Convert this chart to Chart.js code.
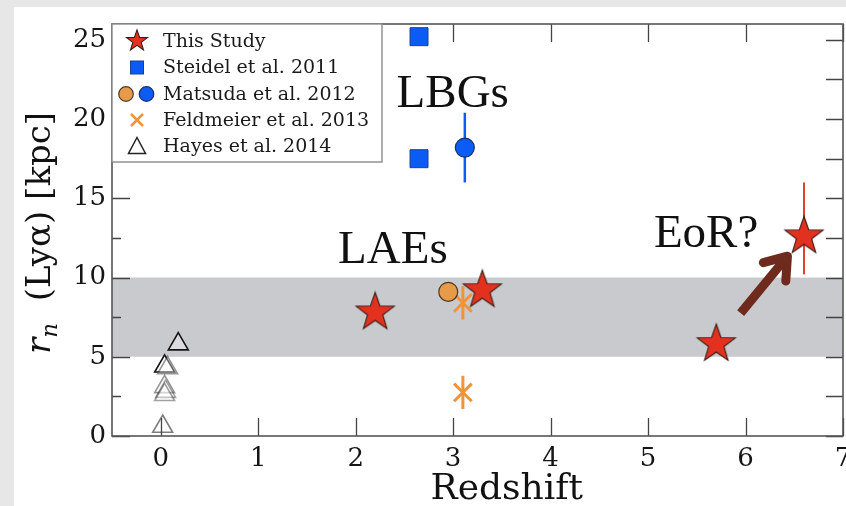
<!DOCTYPE html>
<html><head><meta charset="utf-8">
<script src="https://cdn.jsdelivr.net/npm/chart.js@4/dist/chart.umd.min.js"></script>
<style>html,body{margin:0;padding:0;background:#fff;overflow:hidden}canvas{display:block}</style>
</head><body><canvas id="c" width="846" height="506"></canvas>
<script>
// ---- data ----
const seriesNames = ['This Study','Steidel et al. 2011','Matsuda et al. 2012','Feldmeier et al. 2013','Hayes et al. 2014'];
const thisStudyZ = [2.2, 3.3, 5.7, 6.6];
const thisStudyR = [7.8, 9.2, 5.8, 12.6];
const thisStudyErrLo = [0, 0, 0, 2.4];
const thisStudyErrHi = [0, 0, 0, 3.4];
const steidelZ = [2.65, 2.65];
const steidelR = [25.2, 17.5];
const matsudaLaeZ = [2.95];
const matsudaLaeR = [9.1];
const matsudaLbgZ = [3.12];
const matsudaLbgR = [18.2];
const matsudaLbgErr = [2.2];
const feldmeierZ = [3.1, 3.1];
const feldmeierR = [8.4, 2.75];
const feldmeierErr = [1.05, 1.05];
const hayesZ = [0.18, 0.04, 0.07, 0.04, 0.05, 0.04, 0.02];
const hayesR = [5.8, 4.4, 4.3, 3.1, 2.8, 2.6, 0.6];
const hayesShade = [1.0, 1.0, 0.45, 0.45, 0.4, 0.4, 0.55];
const xTickValues = [0, 1, 2, 3, 4, 5, 6, 7];
const yTickValues = [0, 5, 10, 15, 20, 25];
const bandRange = [5, 10];
const annotationTexts = ['LBGs', 'LAEs', 'EoR?'];

// ---- layout / style (not data) ----
const annotationAnchors = [{z: 2.42, r: 20.75}, {z: 1.82, r: 10.9}, {z: 5.06, r: 11.95}];
const arrowFrom = {z: 5.95, r: 7.75};
const arrowTo = {z: 6.43, r: 11.35};
const SERIF = '"DejaVu Serif", serif';
const TIMES = '"Liberation Serif", "Times New Roman", serif';
const RED = '#e2321f', BLUE = '#0b5cf4', ORANGE_C = '#e79a48', ORANGE_X = '#f0943a';

function makeStar(R, fill, stroke) {
  const s = Math.ceil(2 * R + 4);
  const cv = document.createElement('canvas');
  cv.width = s; cv.height = s;
  const g = cv.getContext('2d');
  const cx = s / 2, cy = s / 2, r2 = R * 0.4;
  g.beginPath();
  for (let i = 0; i < 10; i++) {
    const rr = i % 2 === 0 ? R : r2;
    const a = -Math.PI / 2 + i * Math.PI / 5;
    const px = cx + rr * Math.cos(a), py = cy + rr * Math.sin(a);
    if (i === 0) g.moveTo(px, py); else g.lineTo(px, py);
  }
  g.closePath();
  g.fillStyle = fill; g.fill();
  g.lineWidth = 1.1; g.strokeStyle = stroke; g.stroke();
  return cv;
}
const bigStar = makeStar(20, RED, '#3a1c14');
const smallStar = makeStar(11, RED, '#3a1c14');

const pts = (xs, ys) => xs.map((x, i) => ({x: x, y: ys[i]}));

const datasets = [
  {label: seriesNames[0], data: pts(thisStudyZ, thisStudyR), pointStyle: bigStar, pointRadius: 20,
   errLo: thisStudyErrLo, errHi: thisStudyErrHi, errColor: '#e0402e', errWidth: 2},
  {label: seriesNames[1], data: pts(steidelZ, steidelR), pointStyle: 'rect', pointRadius: 12.7,
   backgroundColor: BLUE, borderColor: '#1d3f8c', borderWidth: 1},
  {label: seriesNames[2], data: pts(matsudaLbgZ, matsudaLbgR), pointStyle: 'circle', pointRadius: 9.5,
   backgroundColor: BLUE, borderColor: '#1c2f66', borderWidth: 1.2,
   errLo: matsudaLbgErr, errHi: matsudaLbgErr, errColor: BLUE, errWidth: 2.5},
  {label: seriesNames[2] + ' (LAE)', data: pts(matsudaLaeZ, matsudaLaeR), pointStyle: 'circle', pointRadius: 9.5,
   backgroundColor: ORANGE_C, borderColor: '#4a3a2a', borderWidth: 1.2},
  {label: seriesNames[3], data: pts(feldmeierZ, feldmeierR), pointStyle: 'crossRot', pointRadius: 12.5,
   borderColor: ORANGE_X, borderWidth: 3,
   errLo: feldmeierErr, errHi: feldmeierErr, errColor: ORANGE_X, errWidth: 3},
  {label: seriesNames[4], data: pts(hayesZ, hayesR), pointStyle: 'triangle', pointRadius: 11.5,
   backgroundColor: 'rgba(255,255,255,0.35)',
   borderColor: hayesShade.map(a => 'rgba(20,20,20,' + a + ')'), borderWidth: 1.6}
];
datasets.forEach(d => { d.pointHoverRadius = d.pointRadius; d.showLine = false; });

function yPix(c, v) { return c.scales.y.getPixelForValue(v); }
function xPix(c, v) { return c.scales.x.getPixelForValue(v); }

const backgroundPlugin = {
  id: 'bg',
  beforeDraw(c) {
    const g = c.ctx;
    g.save();
    g.fillStyle = '#e7e7e7';
    g.fillRect(0, 0, c.width, c.height);
    g.fillStyle = '#ffffff';
    g.fillRect(14, 7, c.width - 14, c.height - 7);
    g.restore();
  }
};

const bandPlugin = {
  id: 'band',
  beforeDatasetsDraw(c) {
    const g = c.ctx, a = c.chartArea;
    const y1 = yPix(c, bandRange[1]), y0 = yPix(c, bandRange[0]);
    g.save();
    g.fillStyle = '#c9cacd';
    g.fillRect(a.left, y1, a.right - a.left, y0 - y1);
    c.data.datasets.forEach(d => {
      if (!d.errLo) return;
      d.data.forEach((p, i) => {
        if (!d.errLo[i] && !d.errHi[i]) return;
        g.strokeStyle = d.errColor; g.lineWidth = d.errWidth;
        g.beginPath();
        const x = xPix(c, p.x);
        g.moveTo(x, yPix(c, p.y - d.errLo[i]));
        g.lineTo(x, yPix(c, p.y + d.errHi[i]));
        g.stroke();
      });
    });
    g.restore();
  }
};

const framePlugin = {
  id: 'frame',
  afterDatasetsDraw(c) {
    const g = c.ctx, a = c.chartArea;
    g.save();
    g.strokeStyle = '#444'; g.lineWidth = 1.3;
    g.beginPath();
    for (let v = 0; v <= 25.01; v += 2.5) {
      const y = Math.round(yPix(c, v)) + 0.5;
      const major = Math.abs(v % 5) < 1e-6;
      g.moveTo(a.left, y); g.lineTo(a.left + (major ? 18 : 9), y);
      g.moveTo(a.right, y); g.lineTo(a.right - 17, y);
    }
    xTickValues.forEach(v => {
      const x = Math.round(xPix(c, v)) + 0.5;
      g.moveTo(x, a.bottom); g.lineTo(x, a.bottom - 18);
      g.moveTo(x, a.top); g.lineTo(x, a.top + 18);
    });
    g.stroke();
    g.strokeStyle = '#555'; g.lineWidth = 1.6;
    g.strokeRect(a.left, a.top, a.right - a.left, a.bottom - a.top);
    g.fillStyle = '#111';
    g.font = '47px ' + TIMES;
    g.textBaseline = 'alphabetic'; g.textAlign = 'left';
    annotationTexts.forEach((t, i) => {
      g.fillText(t, xPix(c, annotationAnchors[i].z), yPix(c, annotationAnchors[i].r));
    });
    const x0 = xPix(c, arrowFrom.z), y0 = yPix(c, arrowFrom.r);
    const x1 = xPix(c, arrowTo.z), y1 = yPix(c, arrowTo.r);
    const ang = Math.atan2(y1 - y0, x1 - x0);
    g.strokeStyle = '#6e2b1d'; g.lineWidth = 9; g.lineCap = 'butt'; g.lineJoin = 'round';
    g.beginPath();
    g.moveTo(x0, y0); g.lineTo(x1 - 4 * Math.cos(ang), y1 - 4 * Math.sin(ang));
    g.stroke();
    g.lineCap = 'round';
    g.beginPath();
    const L = 25, w = 0.62;
    g.moveTo(x1 - L * Math.cos(ang - w), y1 - L * Math.sin(ang - w));
    g.lineTo(x1, y1);
    g.lineTo(x1 - L * Math.cos(ang + w), y1 - L * Math.sin(ang + w));
    g.stroke();
    g.restore();
  },
  afterDraw(c) {
    const g = c.ctx, a = c.chartArea;
    g.save();
    g.translate(50, (a.top + a.bottom) / 2 + 3);
    g.rotate(-Math.PI / 2);
    g.fillStyle = '#111'; g.textBaseline = 'alphabetic';
    const f1 = 'italic 34px ' + SERIF, f2 = 'italic 23px ' + SERIF, f3 = '34px ' + SERIF;
    g.font = f1; const wr = g.measureText('r').width;
    g.font = f2; const wn = g.measureText('n').width;
    const rest = '  (Ly\u03b1) [kpc]';
    g.font = f3; const wt = g.measureText(rest).width;
    let x = -(wr + wn + wt) / 2;
    g.font = f1; g.fillText('r', x, 0); x += wr;
    g.font = f2; g.fillText('n', x, 7); x += wn;
    g.font = f3; g.fillText(rest, x, 0);
    g.restore();
    g.save();
    g.fillStyle = '#111'; g.font = '36px ' + SERIF; g.textAlign = 'center'; g.textBaseline = 'alphabetic';
    g.fillText('Redshift', xPix(c, 3.55), 499);
    g.restore();
    g.save();
    const lx = a.left, ly = a.top, lw = 270, lh = 138;
    g.fillStyle = '#fff'; g.fillRect(lx, ly, lw, lh);
    g.strokeStyle = '#8a8a8a'; g.lineWidth = 1.4; g.strokeRect(lx, ly, lw, lh);
    g.font = '19px ' + SERIF; g.fillStyle = '#1a1a1a'; g.textBaseline = 'middle'; g.textAlign = 'left';
    const rows = [17, 43.5, 70, 96, 122.5];
    const mx = lx + 25, tx = lx + 51;
    seriesNames.forEach((name, i) => {
      g.fillText(name, tx, ly + rows[i] + 1);
    });
    g.drawImage(smallStar, mx - smallStar.width / 2, ly + rows[0] - smallStar.height / 2);
    g.fillStyle = BLUE; g.strokeStyle = '#1d3f8c'; g.lineWidth = 1;
    g.fillRect(mx - 6.5, ly + rows[1] - 6.5, 13, 13); g.strokeRect(mx - 6.5, ly + rows[1] - 6.5, 13, 13);
    g.lineWidth = 1.2;
    g.beginPath(); g.arc(mx - 11, ly + rows[2], 7.3, 0, Math.PI * 2); g.fillStyle = ORANGE_C; g.fill(); g.strokeStyle = '#4a3a2a'; g.stroke();
    g.beginPath(); g.arc(mx + 9.5, ly + rows[2], 7.3, 0, Math.PI * 2); g.fillStyle = BLUE; g.fill(); g.strokeStyle = '#1c2f66'; g.stroke();
    g.strokeStyle = ORANGE_X; g.lineWidth = 2.5;
    g.beginPath();
    g.moveTo(mx - 6, ly + rows[3] - 6); g.lineTo(mx + 6, ly + rows[3] + 6);
    g.moveTo(mx + 6, ly + rows[3] - 6); g.lineTo(mx - 6, ly + rows[3] + 6);
    g.stroke();
    g.strokeStyle = '#222'; g.lineWidth = 1.5;
    g.beginPath();
    g.moveTo(mx, ly + rows[4] - 9); g.lineTo(mx + 8.5, ly + rows[4] + 7); g.lineTo(mx - 8.5, ly + rows[4] + 7); g.closePath();
    g.stroke();
    g.restore();
  }
};

new Chart(document.getElementById('c'), {
  type: 'scatter',
  data: {datasets: datasets},
  options: {
    responsive: false, animation: false, events: [],
    layout: {autoPadding: false, padding: {left: 0, top: 24, right: 3, bottom: 0}},
    plugins: {legend: {display: false}, tooltip: {enabled: false}},
    scales: {
      x: {
        type: 'linear', min: -0.5, max: 7,
        afterFit(s) { s.height = 70; s.paddingLeft = 0; s.paddingRight = 0; },
        afterBuildTicks(s) { s.ticks = xTickValues.map(v => ({value: v})); },
        grid: {display: false, drawTicks: false}, border: {display: false},
        ticks: {color: '#151515', font: {family: SERIF, size: 26}, padding: 8, maxRotation: 0,
                callback: v => String(v)}
      },
      y: {
        type: 'linear', min: 0, max: 26,
        afterFit(s) { s.width = 112; s.paddingTop = 0; s.paddingBottom = 0; },
        afterBuildTicks(s) { s.ticks = yTickValues.map(v => ({value: v})); },
        grid: {display: false, drawTicks: false}, border: {display: false},
        ticks: {color: '#151515', font: {family: SERIF, size: 26}, padding: 6,
                callback: v => String(v)}
      }
    }
  },
  plugins: [backgroundPlugin, bandPlugin, framePlugin]
});
</script></body></html>
